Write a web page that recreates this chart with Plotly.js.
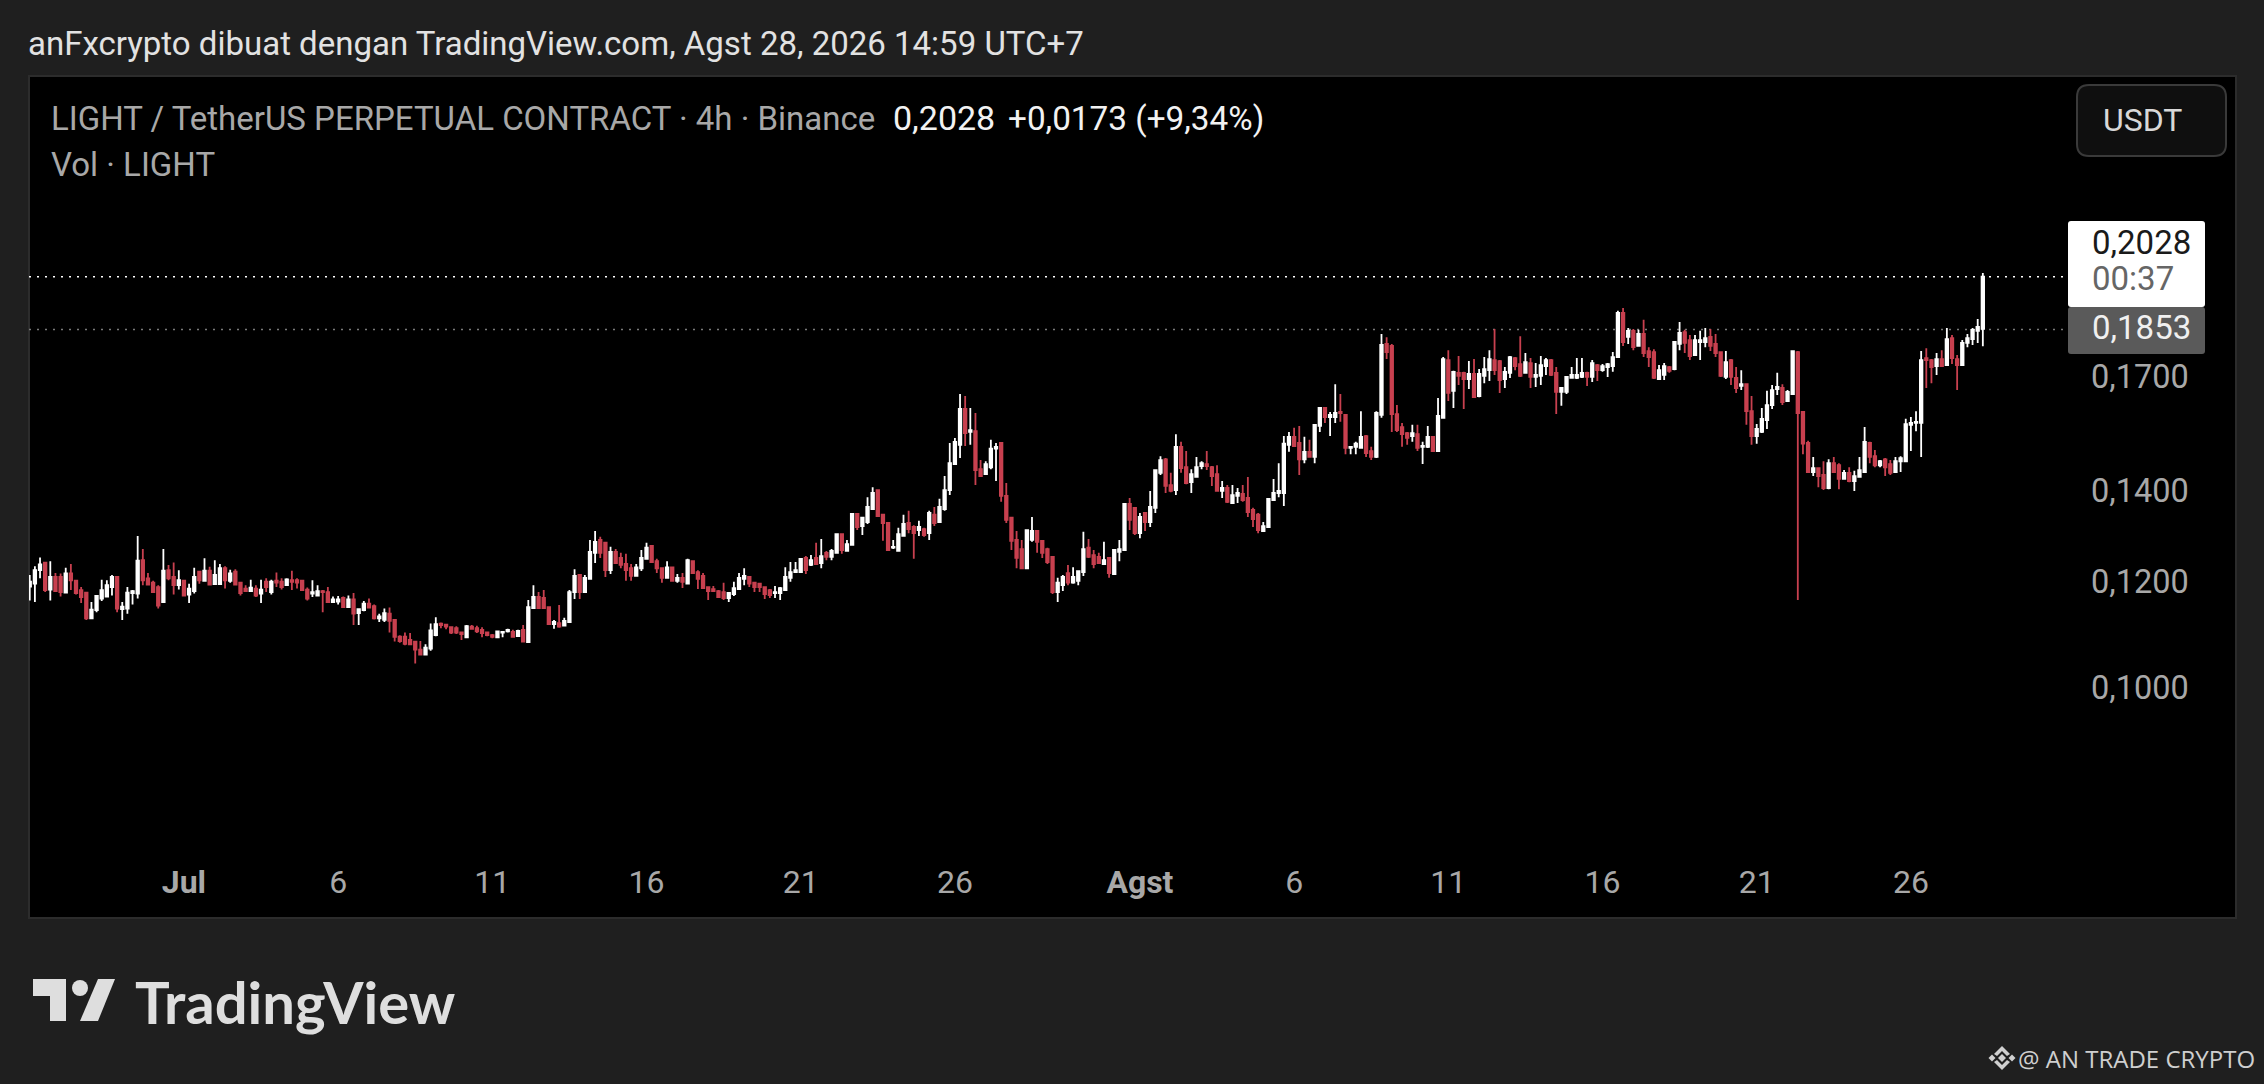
<!DOCTYPE html>
<html><head><meta charset="utf-8">
<script src="https://cdn.plot.ly/plotly-3.0.1.min.js"></script>
<style>html,body{margin:0;padding:0;background:#1f1f1f;overflow:hidden}#c{width:2264px;height:1084px}
.yaxislayer-above{transform:translateY(-3px)}</style>
</head><body><div id="c"></div>
<script>
// 4h candles, first candle 2026-06-26 00:00. W = close above open, R = close below open.
const direction = "WWWRWRRWRR"+"RRWWWWWRWW"+"WWRRRRWRRW"+"RWWRWRWWRW"+"RRRWRWRWRR"+"WRRRRWWRRW"+"WRWRWWRRWW"+"RRRRRRRWWW"+"RRRRRWRRRR"+"RWWWRWRWWR"
 +"RRWRWWWRWW"+"WRRWRRRRWW"+"WRRRWRWRWR"+"RRRRRRWWWW"+"RRRRRWWWWW"+"WRWRWRWWRW"+"WRWWWRRRWW"+"WRRWRWRWWW"+"WWRWRRWWWR"+"RRRRWWRRRR"
 +"WWRWWWRRRW"+"RWWWRRWRWW"+"WRRWRRWWWR"+"RRWRWWRRRR"+"WWWWWWRRWR"+"WWRWWRRWWW"+"RRWWRRRRRW"+"RWWRWWRWRR"+"WRWWWRRWWR"+"RWRWWWRRWW"
 +"WWWRWRWWWW"+"RWRWRRRWWR"+"WWRRWWWRRR"+"WRRWRRWWWW"+"WRWWRRRWRR"+"WRRWRWWWRR"+"WRRWWWWWWR"+"RWRWRRWWWW"+"W";
const high = [
.1219,.1237,.1256,.1245,.1248,.1223,.1222,.1234,.1242,.1208,
.1194,.1184,.1164,.1177,.1209,.1208,.1219,.1216,.1164,.1194,
.1188,.1303,.1274,.1223,.1207,.1198,.1274,.1240,.1245,.1229,
.1208,.1201,.1234,.1228,.1254,.1236,.1250,.1242,.1237,.1230,
.1231,.1205,.1198,.1209,.1198,.1209,.1212,.1209,.1224,.1212,
.1212,.1228,.1212,.1209,.1193,.1208,.1198,.1188,.1194,.1175,
.1176,.1175,.1177,.1182,.1151,.1166,.1171,.1159,.1141,.1151,
.1153,.1130,.1100,.1105,.1104,.1089,.1089,.1083,.1122,.1134,
.1124,.1121,.1117,.1117,.1107,.1119,.1119,.1118,.1115,.1107,
.1102,.1109,.1107,.1112,.1110,.1110,.1119,.1168,.1198,.1184,
.1188,.1154,.1129,.1158,.1133,.1188,.1231,.1221,.1219,.1294,
.1314,.1301,.1290,.1279,.1274,.1266,.1264,.1242,.1242,.1272,
.1288,.1283,.1253,.1235,.1248,.1235,.1221,.1223,.1253,.1248,
.1229,.1223,.1194,.1196,.1188,.1203,.1184,.1205,.1223,.1233,
.1217,.1203,.1203,.1194,.1190,.1196,.1194,.1235,.1246,.1246,
.1255,.1259,.1261,.1288,.1296,.1270,.1274,.1309,.1309,.1294,
.1355,.1355,.1346,.1392,.1416,.1411,.1353,.1332,.1294,.1321,
.1351,.1360,.1327,.1337,.1321,.1360,.1369,.1388,.1443,.1527,
.1540,.1660,.1654,.1621,.1607,.1483,.1480,.1535,.1527,.1527,
.1426,.1346,.1314,.1294,.1318,.1346,.1316,.1294,.1277,.1259,
.1213,.1219,.1240,.1235,.1229,.1312,.1296,.1272,.1266,.1290,
.1257,.1274,.1294,.1378,.1390,.1369,.1355,.1357,.1407,.1460,
.1493,.1488,.1451,.1550,.1530,.1506,.1460,.1491,.1480,.1506,
.1468,.1470,.1431,.1421,.1421,.1414,.1421,.1441,.1367,.1355,
.1334,.1390,.1436,.1475,.1545,.1556,.1567,.1572,.1543,.1535,
.1577,.1623,.1623,.1610,.1688,.1660,.1604,.1519,.1530,.1612,
.1548,.1517,.1612,.1839,.1829,.1808,.1629,.1580,.1556,.1575,
.1575,.1530,.1572,.1543,.1649,.1768,.1789,.1727,.1771,.1724,
.1756,.1762,.1732,.1768,.1789,.1855,.1759,.1738,.1771,.1768,
.1832,.1780,.1765,.1750,.1771,.1765,.1762,.1738,.1680,.1712,
.1738,.1765,.1765,.1724,.1759,.1747,.1747,.1750,.1783,.1913,
.1922,.1858,.1855,.1852,.1884,.1798,.1792,.1744,.1750,.1741,
.1814,.1877,.1852,.1836,.1836,.1849,.1858,.1855,.1839,.1783,
.1786,.1762,.1738,.1729,.1691,.1654,.1577,.1621,.1669,.1686,
.1721,.1688,.1671,.1789,.1786,.1610,.1533,.1491,.1465,.1480,
.1485,.1491,.1475,.1458,.1465,.1456,.1491,.1569,.1530,.1509,
.1483,.1488,.1483,.1491,.1493,.1591,.1596,.1612,.1786,.1795,
.1762,.1780,.1789,.1858,.1836,.1774,.1820,.1839,.1858,.1887,
.2041];
const bodyTop = [
.1205,.1229,.1241,.1245,.1215,.1215,.1215,.1222,.1222,.1207,
.1188,.1183,.1149,.1176,.1188,.1198,.1215,.1215,.1155,.1183,
.1186,.1249,.1250,.1212,.1203,.1194,.1228,.1229,.1215,.1208,
.1207,.1191,.1215,.1226,.1228,.1228,.1219,.1233,.1233,.1222,
.1226,.1203,.1191,.1193,.1191,.1189,.1205,.1205,.1207,.1205,
.1210,.1208,.1208,.1207,.1189,.1184,.1186,.1186,.1184,.1169,
.1169,.1172,.1169,.1169,.1150,.1161,.1161,.1156,.1136,.1142,
.1141,.1129,.1097,.1097,.1091,.1088,.1073,.1077,.1109,.1121,
.1122,.1120,.1115,.1113,.1105,.1117,.1116,.1113,.1110,.1105,
.1100,.1107,.1106,.1110,.1106,.1108,.1110,.1154,.1174,.1174,
.1172,.1154,.1125,.1123,.1127,.1184,.1217,.1219,.1213,.1268,
.1290,.1294,.1288,.1268,.1268,.1255,.1242,.1233,.1235,.1255,
.1277,.1281,.1248,.1233,.1235,.1235,.1213,.1213,.1250,.1248,
.1225,.1217,.1194,.1190,.1186,.1184,.1182,.1192,.1213,.1217,
.1215,.1203,.1201,.1194,.1188,.1184,.1192,.1215,.1225,.1229,
.1253,.1255,.1250,.1255,.1259,.1266,.1270,.1307,.1307,.1285,
.1353,.1353,.1344,.1369,.1402,.1409,.1351,.1332,.1279,.1307,
.1330,.1332,.1323,.1323,.1318,.1355,.1351,.1369,.1409,.1475,
.1530,.1618,.1618,.1561,.1558,.1460,.1473,.1512,.1517,.1527,
.1395,.1344,.1294,.1274,.1316,.1314,.1314,.1292,.1274,.1257,
.1203,.1215,.1223,.1215,.1227,.1274,.1277,.1261,.1257,.1250,
.1255,.1272,.1274,.1376,.1376,.1367,.1346,.1355,.1369,.1458,
.1483,.1485,.1421,.1517,.1517,.1465,.1448,.1465,.1475,.1473,
.1465,.1448,.1414,.1414,.1397,.1402,.1400,.1390,.1362,.1351,
.1325,.1388,.1402,.1407,.1525,.1543,.1543,.1527,.1504,.1504,
.1575,.1621,.1621,.1602,.1607,.1610,.1602,.1517,.1525,.1543,
.1545,.1506,.1607,.1805,.1808,.1802,.1604,.1569,.1553,.1553,
.1550,.1519,.1543,.1543,.1599,.1762,.1759,.1724,.1721,.1721,
.1718,.1718,.1718,.1732,.1762,.1759,.1756,.1724,.1768,.1765,
.1747,.1753,.1750,.1715,.1744,.1759,.1759,.1721,.1677,.1709,
.1715,.1715,.1721,.1721,.1750,.1744,.1741,.1747,.1768,.1906,
.1906,.1849,.1849,.1839,.1839,.1786,.1783,.1729,.1741,.1738,
.1814,.1842,.1845,.1820,.1820,.1820,.1826,.1830,.1808,.1783,
.1753,.1759,.1706,.1688,.1688,.1612,.1564,.1591,.1629,.1671,
.1680,.1677,.1666,.1786,.1783,.1610,.1527,.1463,.1463,.1446,
.1475,.1475,.1470,.1451,.1451,.1443,.1458,.1530,.1527,.1493,
.1480,.1485,.1473,.1480,.1488,.1577,.1580,.1583,.1759,.1765,
.1759,.1762,.1762,.1823,.1826,.1762,.1811,.1826,.1852,.1861,
.2028];
const bodyBottom = [
.1195,.1201,.1229,.1188,.1189,.1186,.1184,.1183,.1208,.1182,
.1174,.1132,.1132,.1148,.1171,.1175,.1194,.1151,.1150,.1151,
.1182,.1181,.1208,.1199,.1184,.1157,.1164,.1212,.1198,.1198,
.1177,.1179,.1186,.1208,.1207,.1199,.1200,.1200,.1208,.1207,
.1199,.1182,.1186,.1186,.1177,.1181,.1194,.1184,.1203,.1194,
.1198,.1205,.1203,.1188,.1171,.1181,.1177,.1184,.1164,.1164,
.1165,.1154,.1154,.1141,.1142,.1148,.1153,.1132,.1132,.1129,
.1127,.1097,.1089,.1084,.1083,.1073,.1064,.1064,.1075,.1100,
.1119,.1116,.1105,.1105,.1102,.1096,.1112,.1107,.1104,.1100,
.1097,.1096,.1105,.1107,.1097,.1098,.1088,.1087,.1152,.1152,
.1152,.1121,.1121,.1116,.1118,.1125,.1184,.1184,.1184,.1211,
.1266,.1266,.1229,.1229,.1244,.1240,.1229,.1217,.1217,.1233,
.1253,.1246,.1233,.1213,.1213,.1207,.1207,.1205,.1201,.1223,
.1211,.1192,.1186,.1186,.1174,.1172,.1172,.1180,.1190,.1211,
.1201,.1194,.1194,.1180,.1178,.1182,.1182,.1188,.1213,.1225,
.1225,.1229,.1240,.1242,.1244,.1257,.1257,.1266,.1272,.1270,
.1283,.1323,.1325,.1334,.1364,.1348,.1332,.1272,.1277,.1270,
.1303,.1318,.1309,.1316,.1305,.1309,.1332,.1334,.1364,.1409,
.1473,.1522,.1553,.1556,.1458,.1443,.1448,.1465,.1512,.1395,
.1339,.1292,.1255,.1233,.1233,.1294,.1290,.1266,.1246,.1184,
.1184,.1198,.1203,.1203,.1207,.1225,.1257,.1242,.1244,.1242,
.1223,.1221,.1268,.1272,.1339,.1309,.1309,.1334,.1334,.1367,
.1451,.1419,.1407,.1409,.1463,.1426,.1428,.1441,.1468,.1468,
.1443,.1407,.1407,.1381,.1378,.1395,.1385,.1357,.1341,.1316,
.1314,.1323,.1385,.1402,.1402,.1522,.1519,.1485,.1485,.1491,
.1491,.1572,.1596,.1596,.1596,.1607,.1514,.1514,.1517,.1514,
.1501,.1491,.1491,.1602,.1783,.1604,.1561,.1550,.1540,.1545,
.1514,.1517,.1517,.1506,.1506,.1594,.1663,.1669,.1712,.1703,
.1703,.1651,.1654,.1712,.1729,.1729,.1700,.1703,.1721,.1741,
.1712,.1721,.1709,.1709,.1712,.1741,.1715,.1666,.1666,.1666,
.1706,.1706,.1709,.1709,.1709,.1729,.1729,.1738,.1741,.1768,
.1814,.1830,.1798,.1802,.1780,.1768,.1706,.1703,.1715,.1727,
.1732,.1808,.1811,.1771,.1774,.1814,.1814,.1802,.1780,.1712,
.1709,.1709,.1677,.1683,.1612,.1545,.1545,.1556,.1588,.1629,
.1674,.1637,.1640,.1660,.1607,.1525,.1453,.1453,.1443,.1414,
.1414,.1453,.1436,.1436,.1431,.1431,.1441,.1453,.1491,.1470,
.1470,.1465,.1451,.1453,.1480,.1480,.1575,.1580,.1580,.1759,
.1738,.1741,.1741,.1744,.1765,.1744,.1744,.1811,.1823,.1849,
.1855];
const low = [
.1167,.1164,.1212,.1184,.1167,.1184,.1175,.1181,.1188,.1179,
.1162,.1129,.1132,.1144,.1166,.1174,.1177,.1144,.1129,.1141,
.1159,.1171,.1198,.1198,.1183,.1151,.1164,.1208,.1179,.1189,
.1175,.1162,.1181,.1201,.1205,.1198,.1200,.1200,.1191,.1203,
.1198,.1177,.1184,.1186,.1174,.1162,.1184,.1179,.1194,.1189,
.1198,.1188,.1191,.1186,.1167,.1174,.1175,.1144,.1162,.1162,
.1159,.1153,.1153,.1119,.1119,.1146,.1151,.1130,.1125,.1125,
.1105,.1088,.1086,.1081,.1081,.1048,.1063,.1063,.1071,.1098,
.1113,.1111,.1102,.1102,.1091,.1095,.1111,.1104,.1096,.1098,
.1094,.1094,.1096,.1105,.1096,.1097,.1088,.1087,.1150,.1152,
.1152,.1119,.1112,.1114,.1118,.1125,.1170,.1170,.1182,.1211,
.1244,.1255,.1215,.1221,.1242,.1233,.1207,.1207,.1217,.1227,
.1253,.1244,.1223,.1203,.1213,.1207,.1203,.1192,.1201,.1223,
.1190,.1190,.1168,.1184,.1174,.1168,.1164,.1176,.1190,.1198,
.1194,.1184,.1184,.1170,.1172,.1172,.1168,.1188,.1205,.1225,
.1225,.1221,.1238,.1240,.1233,.1250,.1250,.1266,.1264,.1270,
.1283,.1316,.1305,.1330,.1364,.1346,.1292,.1272,.1274,.1268,
.1301,.1309,.1253,.1303,.1301,.1294,.1325,.1332,.1360,.1397,
.1473,.1488,.1519,.1522,.1421,.1441,.1446,.1460,.1431,.1381,
.1332,.1272,.1233,.1231,.1233,.1290,.1266,.1255,.1242,.1180,
.1164,.1186,.1198,.1201,.1198,.1217,.1255,.1233,.1242,.1242,
.1213,.1219,.1248,.1272,.1316,.1305,.1298,.1314,.1323,.1355,
.1446,.1402,.1404,.1397,.1451,.1423,.1402,.1441,.1460,.1458,
.1419,.1407,.1390,.1378,.1378,.1378,.1381,.1346,.1323,.1309,
.1312,.1321,.1385,.1392,.1371,.1504,.1517,.1446,.1475,.1491,
.1475,.1556,.1580,.1545,.1580,.1583,.1498,.1498,.1498,.1514,
.1491,.1483,.1488,.1594,.1762,.1556,.1556,.1517,.1522,.1530,
.1506,.1473,.1514,.1504,.1506,.1594,.1640,.1621,.1686,.1618,
.1674,.1651,.1651,.1691,.1697,.1715,.1663,.1677,.1706,.1729,
.1709,.1718,.1677,.1680,.1686,.1715,.1712,.1604,.1627,.1660,
.1706,.1703,.1706,.1683,.1694,.1697,.1724,.1709,.1724,.1765,
.1802,.1808,.1789,.1802,.1768,.1738,.1703,.1700,.1700,.1721,
.1729,.1789,.1780,.1759,.1774,.1759,.1798,.1786,.1768,.1709,
.1703,.1686,.1663,.1671,.1575,.1522,.1525,.1553,.1564,.1618,
.1657,.1629,.1640,.1657,.1168,.1498,.1451,.1443,.1416,.1409,
.1411,.1451,.1411,.1436,.1428,.1407,.1441,.1453,.1475,.1465,
.1465,.1443,.1446,.1453,.1453,.1480,.1506,.1558,.1491,.1677,
.1691,.1715,.1738,.1741,.1747,.1671,.1741,.1798,.1805,.1811,
.1801];
const firstCandle = Date.UTC(2026,5,26,0,0);
const fourHours = 4*3600*1000;
const priceTicks = [0.10,0.12,0.14,0.17];
const priceTickText = ["0,1000","0,1200","0,1400","0,1700"];
const dateTicks = ["2026-07-01","2026-07-06","2026-07-11","2026-07-16","2026-07-21","2026-07-26","2026-08-01","2026-08-06","2026-08-11","2026-08-16","2026-08-21","2026-08-26"];
const dateTickText = ["<b>Jul</b>","6","11","16","21","26","<b>Agst</b>","6","11","16","21","26"];
const lastPrice = 0.2028, openPrice = 0.1853;

const time = high.map((_,i)=>new Date(firstCandle+i*fourHours).toISOString());
const up = i=>direction[i]==="W";
const open = high.map((_,i)=>up(i)?bodyBottom[i]:bodyTop[i]);
const close = high.map((_,i)=>up(i)?bodyTop[i]:bodyBottom[i]);

const L=29,R=2064,T=76,B=860;
const px=x=>(x-L)/(R-L), py=y=>(B-y)/(B-T);
const FONT="Roboto";
const rect=(x0,y0,x1,y1,fill,line,lw,layer)=>({type:"rect",xref:"paper",yref:"paper",x0:px(x0),x1:px(x1),y0:py(y1),y1:py(y0),fillcolor:fill,line:{color:line||fill,width:lw||0},layer:layer||"above"});
const path=(pts,fill)=>({type:"path",xref:"paper",yref:"paper",fillcolor:fill,line:{width:0},
  path:"M"+pts.map(p=>px(p[0])+","+py(p[1])).join("L")+"Z"});
const txt=(x,y,t,size,color,anchor,family)=>({xref:"paper",yref:"paper",x:px(x),y:py(y),text:t,showarrow:false,xanchor:anchor||"left",yanchor:"middle",font:{family:family||FONT,size:size,color:color}});
const diamond=(cx,cy,r,fill)=>path([[cx,cy-r],[cx+r,cy],[cx,cy+r],[cx-r,cy]],fill);
const rr=(x0,y0,x1,y1,r,fill,lc)=>{const a=px,b=py;return {type:"path",xref:"paper",yref:"paper",fillcolor:fill,line:{color:lc||fill,width:lc?2:0},
 path:`M${a(x0+r)},${b(y0)}L${a(x1-r)},${b(y0)}Q${a(x1)},${b(y0)} ${a(x1)},${b(y0+r)}L${a(x1)},${b(y1-r)}Q${a(x1)},${b(y1)} ${a(x1-r)},${b(y1)}L${a(x0+r)},${b(y1)}Q${a(x0)},${b(y1)} ${a(x0)},${b(y1-r)}L${a(x0)},${b(y0+r)}Q${a(x0)},${b(y0)} ${a(x0+r)},${b(y0)}Z`};};

const shapes=[
 rect(29,76,2236,918,"#000000","#2c2c2c",2,"below"),
 {type:"line",xref:"paper",yref:"y",x0:0,x1:1,y0:lastPrice,y1:lastPrice,line:{color:"#ffffff",width:1.5,dash:"2px,6px"},layer:"below"},
 {type:"line",xref:"paper",yref:"y",x0:0,x1:1,y0:openPrice,y1:openPrice,line:{color:"#7a7a7a",width:1.5,dash:"2px,6px"},layer:"below"},
 rr(2077,85,2226,156,12,"#0f0f0f","#3a3a3a"),
 rr(2068,221,2205,307,3,"#ffffff"),
 rr(2068,307,2205,354,3,"#5a5a5a"),
 path([[33,979],[66,979],[66,1021],[50,1021],[50,996],[33,996]],"#dedede"),
 {type:"circle",xref:"paper",yref:"paper",x0:px(72),x1:px(88),y0:py(996),y1:py(980),fillcolor:"#dedede",line:{width:0}},
 path([[98,979],[115,979],[98,1021],[80,1021]],"#dedede"),
 diamond(2002,1058,4,"#d0d0d0"),
 diamond(1992,1058,3.5,"#d0d0d0"),
 diamond(2012,1058,3.5,"#d0d0d0"),
 path([[2002,1046],[2010,1054],[2007,1056],[2002,1051],[1997,1056],[1994,1054]],"#d0d0d0"),
 path([[2002,1070],[2010,1062],[2007,1060],[2002,1065],[1997,1060],[1994,1062]],"#d0d0d0")
];
const annotations=[
 txt(49,118,"LIGHT / TetherUS PERPETUAL CONTRACT · 4h · Binance",33,"#a8a8a8"),
 txt(891,118,"0,2028",34,"#f2f2f2"),
 txt(1006,118,"+0,0173 (+9,34%)",33.3,"#f2f2f2"),
 txt(49,164,"Vol · LIGHT",33,"#a8a8a8"),
 txt(2142,120,"USDT",32,"#d8d8d8","center"),
 txt(2141,243,"0,2028",33,"#1a1a1a","center"),
 txt(2133,278,"00:37",33,"#666666","center"),
 txt(2141,327,"0,1853",33,"#f0f0f0","center"),
 txt(133,1001,"<b>TradingView</b>",58,"#dedede","left","Lato"),
 txt(2257,1058,"@ AN TRADE CRYPTO",24,"#cfcfcf","right","Open Sans")
];
Plotly.newPlot("c",[{
  type:"candlestick",x:time,open:open,high:high,low:low,close:close,
  increasing:{line:{color:"#ffffff",width:1.8},fillcolor:"#ffffff"},
  decreasing:{line:{color:"#c8404f",width:1.8},fillcolor:"#c8404f"},
  whiskerwidth:0,hoverinfo:"skip",showlegend:false
}],{
  width:2264,height:1084,autosize:false,
  paper_bgcolor:"#1f1f1f",plot_bgcolor:"rgba(0,0,0,0)",
  margin:{l:L,r:2264-R,t:T,b:1084-B,pad:0},
  showlegend:false,dragmode:false,hovermode:false,
  title:{text:"anFxcrypto dibuat dengan TradingView.com, Agst 28, 2026 14:59 UTC+7",x:28/2264,xanchor:"left",xref:"container",y:1-43/1084,yanchor:"middle",font:{family:FONT,size:33,color:"#e2e2e2"}},
  xaxis:{type:"date",range:["2026-06-25 23:25","2026-08-30 23:10"],rangeslider:{visible:false},showgrid:false,zeroline:false,showline:false,
    tickmode:"array",tickvals:dateTicks,ticktext:dateTickText,ticks:"",ticklabelstandoff:0,tickfont:{family:FONT,size:32,color:"#a8a8a8"}},
  yaxis:{type:"log",side:"right",range:[Math.log10(0.07495),Math.log10(0.2856)],showgrid:false,zeroline:false,showline:false,
    tickmode:"array",tickvals:priceTicks,ticktext:priceTickText,ticks:"",ticklabelstandoff:26,tickfont:{family:FONT,size:32.5,color:"#a8a8a8"}},
  shapes:shapes,annotations:annotations
},{staticPlot:true,displayModeBar:false});
</script></body></html>
